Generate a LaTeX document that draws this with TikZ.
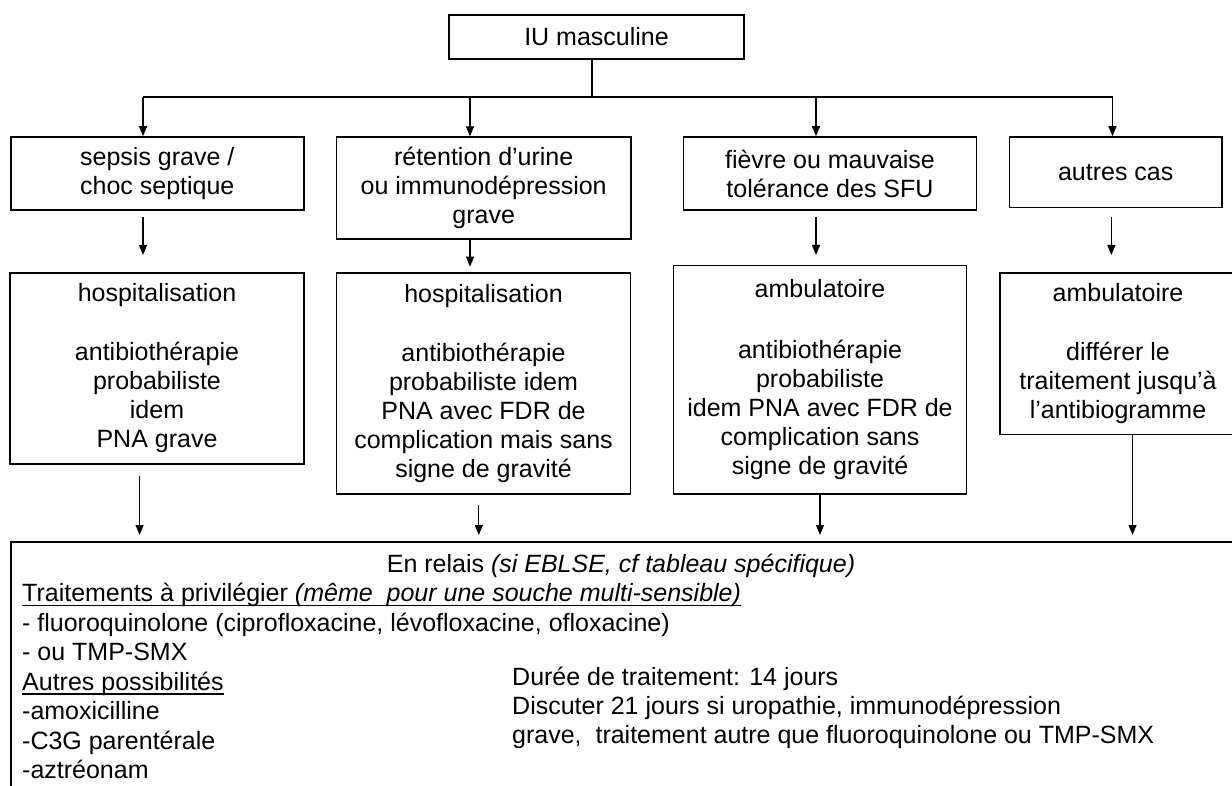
\documentclass[tikz,border=0pt]{standalone}
\usepackage{fontspec}
\setmainfont{Liberation Sans}
\usetikzlibrary{arrows.meta}
\newcommand{\diafont}{\fontsize{25}{29}\selectfont}
\begin{document}
\begin{tikzpicture}[x=1pt,y=-1pt,
  box/.style={draw=black, line width=1.6pt, inner sep=0pt, align=center, font=\diafont, text=black},
  conn/.style={line width=1.2pt, draw=black},
  arr/.style={conn, -{Triangle[length=10pt,width=8pt]}},
  txt/.style={anchor=base west, inner sep=0pt, font=\diafont, text=black},
  uline/.style={line width=1.3pt, draw=black}]
\useasboundingbox (0,0) rectangle (1232,786);
\clip (0,0) rectangle (1232,786);
\fill[white] (0,0) rectangle (1232,786);

% top
\node[box, minimum width=295pt, minimum height=44pt] (top) at (596.5,37) {IU masculine};

% row 1
\node[box, minimum width=293pt, minimum height=73pt] (r1a) at (157.3,173.5) {sepsis grave /\\choc septique};
\node[box, minimum width=294.5pt, minimum height=102pt] (r1b) at (483.7,188.2) {rétention d’urine\\ou immunodépression\\grave};
\node[box, minimum width=293pt, minimum height=73pt] (r1c) at (830,173.5) {fièvre ou mauvaise\\tolérance des SFU};
\node[box, minimum width=212.5pt, minimum height=70.7pt] (r1d) at (1115.7,172.3) {autres cas};

% row 2
\node[box, minimum width=293.5pt, minimum height=190.4pt] (r2a) at (157,368.5) {hospitalisation\\[30pt]antibiothérapie\\probabiliste\\idem\\PNA grave};
\node[box, minimum width=294.3pt, minimum height=220.4pt] (r2b) at (483.5,383.5) {hospitalisation\\[30pt]antibiothérapie\\probabiliste idem\\PNA avec FDR de\\complication mais sans\\signe de gravité};
\node[box, minimum width=293pt, minimum height=228pt] (r2c) at (820,379.7) {ambulatoire\\[32pt]antibiothérapie\\probabiliste\\idem PNA avec FDR de\\complication sans\\signe de gravité};
\node[box, minimum width=236pt, minimum height=161pt] (r2d) at (1118,353.8) {ambulatoire\\[30pt]différer le\\traitement jusqu’à\\l’antibiogramme};

% bottom box
\node[box, minimum width=1240pt, minimum height=300pt, anchor=north west] (bot) at (10,541) {};

% top connectors
\coordinate (h) at (592,97);
\coordinate (hl) at (143,97);
\coordinate (h2) at (470,97);
\coordinate (h3) at (816,97);
\coordinate (hr) at (1112.5,97);
\draw[conn] (top.south -| h) -- (h);
\draw[conn] (hl) -- (hr);
\draw[arr] (hl) -- (hl |- r1a.north);
\draw[arr] (h2) -- (h2 |- r1b.north);
\draw[arr] (h3) -- (h3 |- r1c.north);
\draw[arr] (hr) -- (hr |- r1d.north);

% row1 -> row2
\coordinate (s1) at (143,216.7);  \coordinate (e1) at (143,255);
\coordinate (e2) at (470,266.7);
\coordinate (s3) at (816,216.7);  \coordinate (e3) at (816,255);
\coordinate (s4) at (1111.4,216.7); \coordinate (e4) at (1111.4,255);
\draw[arr] (s1) -- (e1);
\draw[arr] (e2 |- r1b.south) -- (e2);
\draw[arr] (s3) -- (e3);
\draw[arr] (s4) -- (e4);

% row2 -> bottom
\coordinate (t1) at (139.6,475.7); \coordinate (u1) at (139.6,535);
\coordinate (t2) at (478.8,505);   \coordinate (u2) at (478.8,535);
\coordinate (u3) at (820,535);
\coordinate (u4) at (1132.5,535);
\draw[arr] (t1) -- (u1);
\draw[arr] (t2) -- (u2);
\draw[arr] (r2c.south) -- (u3);
\draw[arr] (u4 |- r2d.south) -- (u4);

% bottom texts
\node[anchor=base, inner sep=0pt, font=\diafont] (l0) at (621,572) {En relais \textit{(si EBLSE, cf tableau spécifique)}};
\node[txt] (l1) at (22,601.5) {Traitements à privilégier \textit{(même\ \ pour une souche multi-sensible)}};
\draw[uline] ([yshift=-4pt]l1.base west) -- ([yshift=-4pt]l1.base east);
\node[txt] (l2) at (22,631) {- fluoroquinolone (ciprofloxacine, lévofloxacine, ofloxacine)};
\node[txt] (l3) at (22,660.5) {- ou TMP-SMX};
\node[txt] (l4) at (22,690) {Autres possibilités};
\draw[uline] ([yshift=-4pt]l4.base west) -- ([yshift=-4pt]l4.base east);
\node[txt] (l5) at (22,719.5) {-amoxicilline};
\node[txt] (l6) at (22,749) {-C3G parentérale};
\node[txt] (l7) at (22,778.5) {-aztréonam};

\node[txt] (m1) at (512,685) {Durée de traitement: 14 jours};
\node[txt] (m2) at (512,714) {Discuter 21 jours si uropathie, immunodépression};
\node[txt] (m3) at (512,743.5) {grave,\ \ traitement autre que fluoroquinolone ou TMP-SMX};
\end{tikzpicture}
\end{document}
